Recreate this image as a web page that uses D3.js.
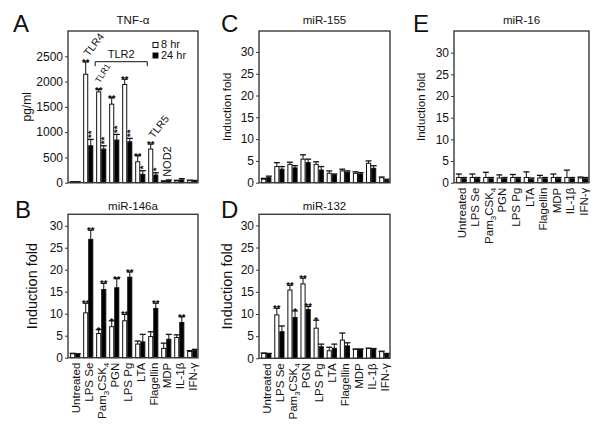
<!DOCTYPE html>
<html><head><meta charset="utf-8">
<script src="https://cdn.jsdelivr.net/npm/d3@7"></script>
<style>
body{margin:0;background:#fff}
svg{display:block}
text{font-family:"Liberation Sans",Arial,Helvetica,sans-serif;fill:#111}
</style>
</head><body>
<svg id="chart" width="601" height="430"></svg>
<script>
// ---------------- data ----------------
const categories = ["Untreated","LPS Se","Pam3CSK4","PGN","LPS Pg","LTA","Flagellin","MDP","IL-1β","IFN-γ"];
const seriesNames = ["8 hr","24 hr"];

// Panel A: TNF-α (pg/ml)
const tnf8     = [15, 2145, 1796, 1553, 1942, 414, 665, 25, 35, 40];
const tnf8Err  = [5, 243, 47, 125, 105, 119, 99, 12, 12, 10];
const tnf24    = [15, 730, 665, 843, 809, 165, 152, 40, 55, 35];
const tnf24Err = [5, 126, 65, 112, 67, 72, 45, 15, 25, 10];
const tnfStars8  = ["", "**", "**", "**", "**", "**", "**", "", "", ""];
const tnfStars24 = ["", "**", "**", "**", "**", "*", "*", "", "", ""];
const tnfTicks = [0, 500, 1000, 1500, 2000, 2500];
const receptorLabels = [
  {cat: "LPS Se", text: "TLR4"},
  {cat: "Pam3CSK4", text: "TLR1"},
  {cat: "Flagellin", text: "TLR5"},
  {cat: "MDP", text: "NOD2"}
];
const bracketLabel = {from: "Pam3CSK4", to: "LTA", text: "TLR2"};

// Panel B: miR-146a
const m146_8     = [0.9, 10.2, 5.5, 7.05, 8.4, 3.1, 4.8, 2.1, 4.6, 1.4];
const m146_8Err  = [0.1, 2.2, 0.9, 1.35, 1.45, 0.7, 1.1, 1.2, 0.6, 0.2];
const m146_24    = [0.8, 26.9, 15.5, 15.9, 18.3, 3.6, 11.2, 4.2, 8.0, 1.6];
const m146_24Err = [0.1, 2.1, 1.4, 2.1, 1.2, 1.7, 1.2, 1.1, 1.3, 0.3];
const m146Stars8  = ["", "**", "*", "*", "**", "", "", "", "", ""];
const m146Stars24 = ["", "**", "**", "**", "**", "", "**", "", "**", ""];

// Panel C: miR-155
const m155_8     = [0.8, 3.7, 4.2, 5.4, 4.2, 2.15, 2.7, 2.15, 4.45, 1.15];
const m155_8Err  = [0.2, 0.9, 0.5, 1.0, 0.6, 0.55, 0.4, 0.35, 0.55, 0.15];
const m155_24    = [1.15, 3.1, 3.4, 4.6, 2.9, 1.8, 2.4, 2.0, 3.3, 0.6];
const m155_24Err = [0.35, 0.6, 0.5, 0.8, 0.8, 0.2, 0.3, 0.3, 0.6, 0.2];

// Panel D: miR-132
const m132_8     = [1.1, 9.8, 15.4, 16.8, 6.8, 1.7, 4.1, 2.0, 2.2, 1.5];
const m132_8Err  = [0.1, 1.5, 1.1, 1.3, 1.8, 0.8, 1.6, 0.1, 0.1, 0.1];
const m132_24    = [1.0, 6.0, 9.2, 11.0, 2.6, 2.25, 2.8, 2.0, 2.0, 1.0];
const m132_24Err = [0.1, 1.3, 1.5, 0.7, 0.6, 0.95, 0.7, 0.1, 0.2, 0.1];
const m132Stars8  = ["", "**", "**", "**", "*", "", "", "", "", ""];
const m132Stars24 = ["", "", "*", "**", "", "", "", "", "", ""];

// Panel E: miR-16
const m16_8     = [1.2, 1.2, 1.2, 1.1, 1.2, 1.2, 1.1, 1.2, 1.2, 1.1];
const m16_8Err  = [0.8, 0.8, 1.2, 0.7, 0.7, 1.3, 0.6, 0.8, 1.7, 0.2];
const m16_24    = [0.9, 0.9, 0.9, 0.9, 0.9, 0.8, 0.9, 0.9, 0.9, 0.9];
const m16_24Err = [0.3, 0.3, 0.3, 0.3, 0.3, 0.3, 0.3, 0.3, 0.3, 0.3];

const foldTicks = [0, 5, 10, 15, 20, 25, 30];

// ---------------- drawing ----------------
const svg = d3.select("#chart");
const FRAME = "#3a3a3a";

function catLabel(sel, c) {
  if (c === "Pam3CSK4") {
    sel.append("tspan").text("Pam");
    sel.append("tspan").attr("dy", 3).attr("font-size", 8).text("3");
    sel.append("tspan").attr("dy", -3).text("CSK");
    sel.append("tspan").attr("dy", 3).attr("font-size", 8).text("4");
  } else sel.text(c);
}

function drawPanel(p) {
  const g = svg.append("g");
  const x = d3.scaleBand().domain(categories).range([p.left + 1.5, p.right]).paddingInner(0.22).paddingOuter(0.05);
  const xs = d3.scaleBand().domain([0, 1]).range([0, x.bandwidth()]);
  const y = d3.scaleLinear().domain(p.domain).range([p.bottom, p.top]);
  const bw = xs.bandwidth();

  const series = [
    {vals: p.v8, err: p.e8, stars: p.s8 || [], fill: "#fff", idx: 0},
    {vals: p.v24, err: p.e24, stars: p.s24 || [], fill: "#000", idx: 1}
  ];

  series.forEach(s => {
    const data = categories.map((c, i) => ({c, v: s.vals[i], e: s.err[i], st: s.stars[i] || ""}));
    const bx = d => x(d.c) + xs(s.idx);
    // error bars
    g.append("g").selectAll("line.eb").data(data).join("line")
      .attr("x1", d => bx(d) + bw / 2).attr("x2", d => bx(d) + bw / 2)
      .attr("y1", d => y(d.v)).attr("y2", d => y(d.v + d.e))
      .attr("stroke", "#111").attr("stroke-width", 1);
    g.append("g").selectAll("line.cap").data(data).join("line")
      .attr("x1", d => bx(d) + bw / 2 - 3).attr("x2", d => bx(d) + bw / 2 + 3)
      .attr("y1", d => y(d.v + d.e)).attr("y2", d => y(d.v + d.e))
      .attr("stroke", "#111").attr("stroke-width", 1.3);
    // bars
    g.append("g").selectAll("rect").data(data).join("rect")
      .attr("x", d => bx(d) + 0.5).attr("width", bw - 1)
      .attr("y", d => y(d.v)).attr("height", d => Math.max(0.5, y(0) - y(d.v)))
      .attr("fill", s.fill).attr("stroke", "#111").attr("stroke-width", 1);
    // significance stars
    const rotated = p.rot24 && s.idx === 1;
    g.append("g").selectAll("text").data(data.filter(d => d.st)).join("text")
      .attr("font-size", 9.5).attr("font-weight", "bold")
      .attr("transform", d => {
        const cx = bx(d) + bw / 2, ty = y(d.v + d.e);
        if (rotated) return `translate(${cx + 3},${ty - 1.5}) rotate(-90)`;
        return `translate(${cx},${ty + 3})`;
      })
      .attr("text-anchor", rotated ? "start" : "middle")
      .text(d => d.st);
  });

  // frame
  g.append("rect").attr("x", p.left).attr("y", p.top)
    .attr("width", p.right - p.left).attr("height", p.bottom - p.top)
    .attr("fill", "none").attr("stroke", FRAME).attr("stroke-width", 1.4);

  // y axis
  const ax = g.append("g").attr("transform", `translate(${p.left},0)`)
    .call(d3.axisLeft(y).tickValues(p.ticks).tickSize(3).tickPadding(2).tickFormat(d3.format("d")));
  ax.select(".domain").remove();
  ax.selectAll(".tick line").attr("stroke", FRAME);
  ax.selectAll(".tick text").attr("font-size", 12).attr("fill", "#111")
    .attr("font-family", "Liberation Sans, Arial, sans-serif");

  // title, letter, y label
  g.append("text").attr("x", (p.left + p.right) / 2).attr("y", p.titleY)
    .attr("text-anchor", "middle").attr("font-size", 11.5).text(p.title);
  g.append("text").attr("x", p.letterX).attr("y", p.letterY)
    .attr("font-size", 24).text(p.letter);
  g.append("text").attr("transform", `translate(${p.ylabX},${(p.top + p.bottom) / 2}) rotate(-90)`)
    .attr("text-anchor", "middle").attr("font-size", p.ylabSize).text(p.ylab);

  // x labels
  if (p.showX) {
    categories.forEach(c => {
      const t = g.append("text")
        .attr("transform", `translate(${x(c) + x.bandwidth() / 2 + 4.5},${p.bottom + 5}) rotate(-90)`)
        .attr("text-anchor", "end").attr("font-size", 11.5);
      catLabel(t, c);
    });
  }
  return {g, x, xs, y, bw};
}

const A = drawPanel({left: 68, right: 198, top: 31, bottom: 182.7, domain: [0, 3000], ticks: tnfTicks,
  v8: tnf8, e8: tnf8Err, v24: tnf24, e24: tnf24Err, s8: tnfStars8, s24: tnfStars24, rot24: true,
  title: "TNF-α", titleY: 24, letter: "A", letterX: 13, letterY: 32, ylab: "pg/ml", ylabX: 31, ylabSize: 12, showX: false});

drawPanel({left: 68, right: 198, top: 214.3, bottom: 357.7, domain: [0, 32.6], ticks: foldTicks,
  v8: m146_8, e8: m146_8Err, v24: m146_24, e24: m146_24Err, s8: m146Stars8, s24: m146Stars24,
  title: "miR-146a", titleY: 210, letter: "B", letterX: 15, letterY: 218, ylab: "Induction fold", ylabX: 37, ylabSize: 14.5, showX: true});

drawPanel({left: 259, right: 390, top: 31, bottom: 182.7, domain: [0, 34.8], ticks: foldTicks,
  v8: m155_8, e8: m155_8Err, v24: m155_24, e24: m155_24Err,
  title: "miR-155", titleY: 24, letter: "C", letterX: 221, letterY: 32, ylab: "Induction fold", ylabX: 231, ylabSize: 11.5, showX: false});

drawPanel({left: 259, right: 390, top: 214.3, bottom: 358.3, domain: [0, 32.5], ticks: foldTicks,
  v8: m132_8, e8: m132_8Err, v24: m132_24, e24: m132_24Err, s8: m132Stars8, s24: m132Stars24,
  title: "miR-132", titleY: 210, letter: "D", letterX: 221, letterY: 218, ylab: "Induction fold", ylabX: 232, ylabSize: 14.5, showX: true});

drawPanel({left: 454, right: 589, top: 31, bottom: 182.7, domain: [0, 35], ticks: foldTicks,
  v8: m16_8, e8: m16_8Err, v24: m16_24, e24: m16_24Err,
  title: "miR-16", titleY: 24, letter: "E", letterX: 413, letterY: 32, ylab: "Induction fold", ylabX: 425, ylabSize: 11.5, showX: true});

// ---- Panel A annotations ----
(function () {
  const {g, x, xs, y, bw} = A;
  const wx = c => x(c) + xs(0) + bw / 2;
  const i = c => categories.indexOf(c);
  receptorLabels.forEach(r => {
    const k = i(r.cat);
    const top = y(tnf8[k] + tnf8Err[k]);
    let tr, fs;
    if (r.text === "NOD2") { tr = `translate(${wx(r.cat) + 7},${top - 4}) rotate(-90)`; fs = 11; }
    else if (r.text === "TLR1") { tr = `translate(${wx(r.cat) + 1},${top - 6}) rotate(-58)`; fs = 8.5; }
    else { tr = `translate(${wx(r.cat) + 3},${top - 5}) rotate(-52)`; fs = 10.5; }
    g.append("text").attr("transform", tr).attr("font-size", fs).text(r.text);
  });
  const x1 = x(bracketLabel.from) - 1, x2 = x(bracketLabel.to) + x.bandwidth() + 2;
  const by = 61.7;
  g.append("path").attr("d", `M${x1},${by + 4.5}V${by}H${x2}V${by + 4.5}`)
    .attr("fill", "none").attr("stroke", "#111").attr("stroke-width", 1);
  g.append("text").attr("x", (x1 + x2) / 2).attr("y", by - 4).attr("text-anchor", "middle")
    .attr("font-size", 11).text(bracketLabel.text);
  // legend
  const lg = g.append("g");
  seriesNames.forEach((s, k) => {
    lg.append("rect").attr("x", 153).attr("y", 42.5 + k * 10.5).attr("width", 5).attr("height", 5)
      .attr("fill", k ? "#000" : "#fff").attr("stroke", "#111").attr("stroke-width", 1);
    lg.append("text").attr("x", 161).attr("y", 48 + k * 10.5).attr("font-size", 11).text(s);
  });
})();
</script>
</body></html>
